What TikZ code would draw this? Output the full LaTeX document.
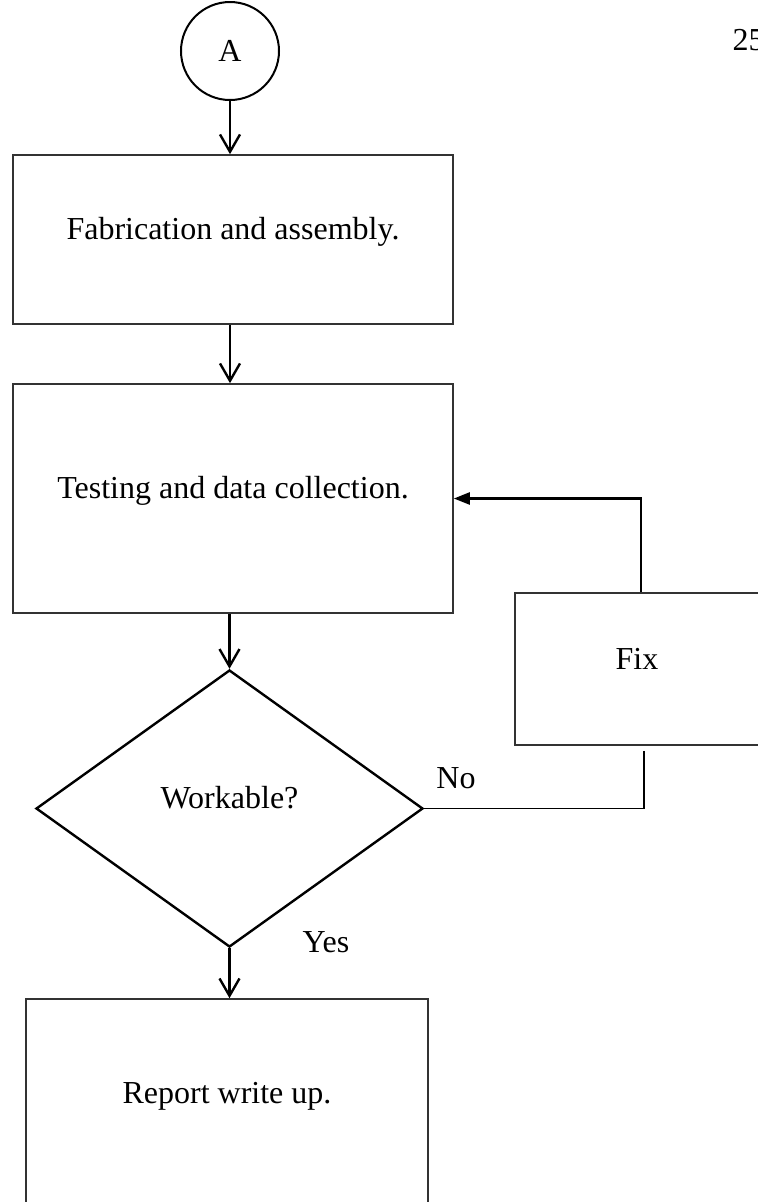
\documentclass[12pt,tikz,border=0pt]{standalone}
\usepackage{fontspec}
\setmainfont{Liberation Serif}
\usetikzlibrary{shapes.geometric,arrows.meta}
\begin{document}
\begin{tikzpicture}[x=0.375pt,y=-0.375pt,
  stepbox/.style={draw=black!80,line width=0.6pt,rectangle,text height=0.7em,text depth=0.7em},
  flow/.style={line width=0.9pt,-{Straight Barb[length=6.5pt,width=7.5pt]}},
  back/.style={line width=0.9pt,-{Triangle[length=6pt,width=4.5pt]}}]
\useasboundingbox (0,0) rectangle (758,1202);
\clip (0,0) rectangle (758,1202);
\node[draw,circle,line width=0.75pt,minimum size=36.75pt,inner sep=0pt] (circA) at (230,51) {A};
\node[stepbox,minimum width=165pt,minimum height=63.4pt] (fab) at (233,239.5) {Fabrication and assembly.};
\node[stepbox,minimum width=165pt,minimum height=85.9pt] (test) at (233,498.5) {Testing and data collection.};
\node[draw,diamond,line width=0.9pt,minimum width=145.1pt,minimum height=103.9pt,inner sep=0pt,
  text height=0.7em,text depth=0.7em] (work) at (229.5,808.5) {Workable?};
\node[stepbox,minimum width=150.75pt,minimum height=78pt] (report) at (227,1103) {Report write up.};
\node[stepbox,minimum width=91.5pt,minimum height=57pt] (fix) at (637,669) {Fix};
\node[anchor=base] (no) at (456,788) {No};
\node[anchor=base] (yes) at (326,952) {Yes};
\node[anchor=base west,inner sep=0pt] (page) at (732,50) {25};
\draw[flow] (circA.south) -- (circA.south |- fab.north);
\draw[flow] (fab.south -| circA) -- (test.north -| circA);
\draw[flow] (test.south -| work.north) -- (work.north);
\draw[flow] (work.south) -- (work.south |- report.north);
\draw[back] ([xshift=1.5pt]fix.north) |- (test.east);
\draw[line width=0.6pt] ([xshift=2.6pt,yshift=-1.9pt]fix.south) |- (work.east);
\end{tikzpicture}
\end{document}
